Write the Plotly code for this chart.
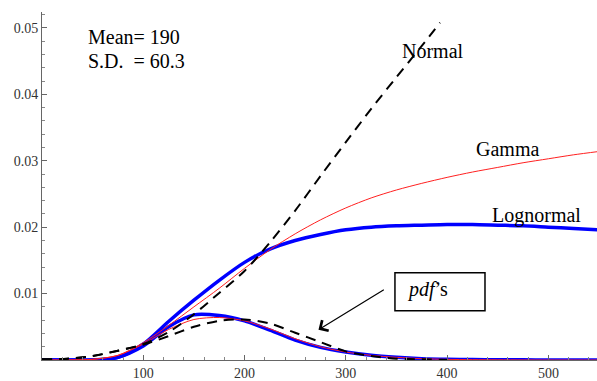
import plotly.graph_objects as go

# ---- data ----
x_grid = [0, 25, 50, 75, 100, 125, 150, 175, 200, 225, 250, 275, 300, 325, 350,
          375, 400, 425, 450, 475, 500, 525, 550]

lognormal_hazard = [0, 0, 0, 0.0004, 0.0024, 0.0058, 0.0090, 0.0120, 0.0147, 0.0167,
                    0.0180, 0.0189, 0.0196, 0.0200, 0.0202, 0.0203, 0.0204, 0.0204,
                    0.0203, 0.0202, 0.0200, 0.0198, 0.0196]
lognormal_pdf = [0, 0, 0, 0.0004, 0.0021, 0.0050, 0.0068, 0.0067, 0.0059, 0.0045,
                 0.0030, 0.0019, 0.0012, 0.0007, 0.0004, 0.0002, 0.0001, 0.00006,
                 0.00004, 0.00002, 0.00001, 0, 0]

gamma_hazard = [0, 0, 0.0001, 0.0007, 0.0026, 0.0052, 0.0080, 0.0108, 0.0138, 0.0166,
                0.0190, 0.0211, 0.0229, 0.0244, 0.0256, 0.0266, 0.0275, 0.0283,
                0.0290, 0.0297, 0.0303, 0.0309, 0.0314]
gamma_pdf = [0, 0, 0.0001, 0.0007, 0.0024, 0.0046, 0.0061, 0.0064, 0.0059, 0.0047,
             0.0032, 0.0020, 0.0012, 0.0007, 0.0004, 0.0002, 0.0001, 0.00005,
             0.00003, 0.00001, 0, 0, 0]

normal_x = [0, 25, 50, 75, 100, 125, 150, 175, 200, 225, 250, 275, 300, 325, 350, 375, 393]
normal_hazard = [0.0001, 0.0002, 0.0006, 0.0014, 0.0024, 0.0042, 0.0069, 0.0101, 0.0134,
                 0.0177, 0.0225, 0.0277, 0.0328, 0.0378, 0.0426, 0.0473, 0.0508]
normal_pdf_x = [0, 25, 50, 75, 100, 125, 150, 175, 200, 225, 250, 275, 300, 325, 350, 375, 400]
normal_pdf = [0.0001, 0.0002, 0.0006, 0.0014, 0.0023, 0.0036, 0.0050, 0.0059, 0.0061,
              0.0055, 0.0041, 0.0027, 0.0013, 0.0006, 0.0002, 0.0001, 0.0]

x_ticks = [100, 200, 300, 400, 500]
y_ticks = [0.01, 0.02, 0.03, 0.04, 0.05]
y_tick_text = ["0.01", "0.02", "0.03", "0.04", "0.05"]

SERIF = "Liberation Serif"
BLUE = "#0000ff"
RED = "#ff2020"

fig = go.Figure()

for ys in (lognormal_hazard, lognormal_pdf):
    fig.add_trace(go.Scatter(x=x_grid, y=ys, mode="lines",
                             line=dict(color=BLUE, width=3.5, shape="spline", smoothing=0.8),
                             hoverinfo="skip"))
for ys in (gamma_hazard, gamma_pdf):
    fig.add_trace(go.Scatter(x=x_grid, y=ys, mode="lines",
                             line=dict(color=RED, width=1, shape="spline", smoothing=0.8),
                             hoverinfo="skip"))
fig.add_trace(go.Scatter(x=normal_x, y=normal_hazard, mode="lines",
                         line=dict(color="black", width=2, dash="10px,7px",
                                   shape="spline", smoothing=0.8),
                         hoverinfo="skip"))
fig.add_trace(go.Scatter(x=normal_pdf_x, y=normal_pdf, mode="lines",
                         line=dict(color="black", width=2, dash="10px,7px",
                                   shape="spline", smoothing=0.8),
                         hoverinfo="skip"))

txt = dict(family=SERIF, size=20, color="black")
annotations = [
    dict(x=43, y=0.0487, text="Mean= 190", xanchor="left", yanchor="middle"),
    dict(x=43, y=0.0450, text="S.D.\u00a0\u00a0= 60.3", xanchor="left", yanchor="middle"),
    dict(x=386, y=0.0466, text="Normal", xanchor="center", yanchor="middle"),
    dict(x=460, y=0.0317, text="Gamma", xanchor="center", yanchor="middle"),
    dict(x=488, y=0.0218, text="Lognormal", xanchor="center", yanchor="middle"),
    dict(x=381, y=0.0106, text="<i>pdf</i>\u2019s", xanchor="center", yanchor="middle"),
]
for a in annotations:
    a.update(xref="x", yref="y", showarrow=False, font=txt)
annotations.append(dict(x=273, y=0.00457, ax=339, ay=0.0107, xref="x", yref="y",
                        axref="x", ayref="y", showarrow=True, arrowhead=4,
                        arrowsize=2, arrowwidth=1.2, arrowcolor="black", text=""))

fig.update_layout(
    width=597, height=381,
    margin=dict(l=42, r=0, t=12, b=18),
    paper_bgcolor="white", plot_bgcolor="white",
    showlegend=False,
    annotations=annotations,
    shapes=[dict(type="rect", xref="x", yref="y", x0=348.5, x1=437.4,
                 y0=0.00742, y1=0.01313, line=dict(color="black", width=1.5))],
    font=dict(family=SERIF, size=13, color="#333333"),
)
fig.update_xaxes(range=[0, 548], showgrid=False, zeroline=False,
                 showline=True, linecolor="#666666", linewidth=1,
                 tickvals=x_ticks, ticks="inside", ticklen=5, tickcolor="#666666",
                 minor=dict(dtick=20, tick0=0, ticks="inside", ticklen=3, tickcolor="#888888"),
                 tickfont=dict(family=SERIF, size=14, color="#333333"))
fig.update_yaxes(range=[0, 0.0524], showgrid=False, zeroline=False,
                 showline=True, linecolor="#666666", linewidth=1,
                 tickvals=y_ticks, ticktext=y_tick_text,
                 ticks="inside", ticklen=5, tickcolor="#666666",
                 minor=dict(dtick=0.002, tick0=0, ticks="inside", ticklen=3, tickcolor="#888888"),
                 tickfont=dict(family=SERIF, size=14, color="#333333"))

fig.write_html("out.html")
